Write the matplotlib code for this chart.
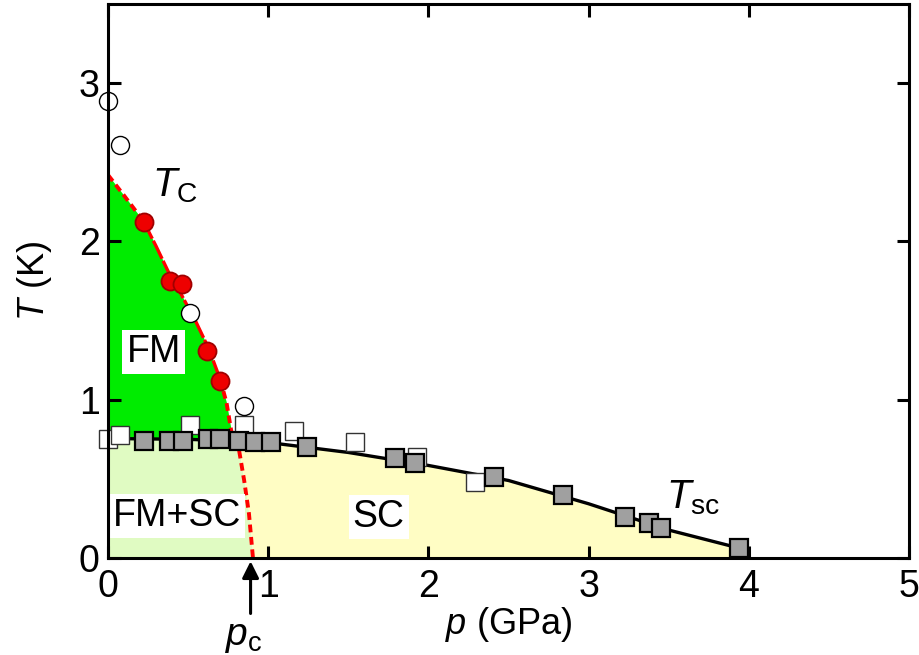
import matplotlib
matplotlib.use("Agg")
import matplotlib.pyplot as plt
import numpy as np

plt.rcParams['font.family'] = ['Liberation Sans', 'DejaVu Sans']
plt.rcParams['mathtext.fontset'] = 'custom'
plt.rcParams['mathtext.rm'] = 'Liberation Sans'
plt.rcParams['mathtext.it'] = 'Liberation Sans:italic'
plt.rcParams['mathtext.default'] = 'it'

# ---- data ----
# Tc from red filled circles
tc_red_p = [0.227, 0.39, 0.46, 0.62, 0.70]
tc_red_T = [2.12, 1.75, 1.73, 1.31, 1.12]
# open circles
tc_open_p = [0.0, 0.077, 0.51, 0.85]
tc_open_T = [2.89, 2.61, 1.55, 0.96]
# Tsc gray squares
tsc_p = [0.225, 0.38, 0.47, 0.625, 0.70, 0.82, 0.915, 1.02, 1.245, 1.79, 1.915, 2.41, 2.84, 3.23, 3.38, 3.45, 3.94]
tsc_T = [0.74, 0.74, 0.74, 0.75, 0.75, 0.74, 0.735, 0.73, 0.70, 0.63, 0.60, 0.51, 0.40, 0.26, 0.22, 0.19, 0.063]
# open squares
tsc_open_p = [0.0, 0.075, 0.51, 0.85, 1.16, 1.54, 1.93, 2.29]
tsc_open_T = [0.75, 0.775, 0.84, 0.84, 0.80, 0.735, 0.64, 0.48]
# Tc phase line (red dashed)
tc_line_p = [0.0, 0.10, 0.22, 0.30, 0.39, 0.46, 0.55, 0.63, 0.70, 0.74, 0.77, 0.81, 0.85, 0.88, 0.905]
tc_line_T = [2.42, 2.29, 2.13, 1.97, 1.78, 1.66, 1.49, 1.32, 1.13, 0.98, 0.80, 0.73, 0.49, 0.28, 0.0]
# Tsc phase line (black)
tsc_line_p = [0.0, 0.5, 1.0, 1.5, 2.0, 2.5, 3.0, 3.5, 3.94, 4.0]
tsc_line_T = [0.755, 0.75, 0.73, 0.667, 0.585, 0.49, 0.343, 0.177, 0.063, 0.0]
pc = 0.89

xticks = [0, 1, 2, 3, 4, 5]
yticks = [0, 1, 2, 3]

fig = plt.figure(figsize=(9.2, 6.55), dpi=100)
ax = fig.add_axes([0.1174, 0.148, 0.988 - 0.1174, 0.994 - 0.148])
ax.set_xlim(0, 5)
ax.set_ylim(0, 3.5)

tcp = np.array(tc_line_p); tcT = np.array(tc_line_T)
tsp = np.array(tsc_line_p); tsT = np.array(tsc_line_T)

# regions
green = '#00ec00'
lightgreen = '#e0fbc2'
yellow = '#fffdc4'
pg = np.linspace(0, 0.9, 400)
tc_g = np.interp(pg, tcp, tcT)
ts_g = np.interp(pg, tsp, tsT)
ax.fill_between(pg, ts_g, tc_g, where=tc_g >= ts_g, color=green, lw=0, zorder=1)
ax.fill_between(pg, 0, np.minimum(tc_g, ts_g), color=lightgreen, lw=0, zorder=1)
py = np.linspace(0.75, 4.0, 800)
ts_y = np.interp(py, tsp, tsT)
tc_y = np.interp(py, tcp, tcT, right=0.0)
ax.fill_between(py, tc_y, ts_y, where=ts_y >= tc_y, color=yellow, lw=0, zorder=1)

# lines
ax.plot(tsp[:-1], tsT[:-1], color='black', lw=2.4, zorder=3)
ax.plot(tcp[:3], tcT[:3], color='red', lw=2.8, ls=(0, (2.0, 1.2)), zorder=3)
ax.plot(tcp[2:9], tcT[2:9], color='red', lw=2.4, ls=(0, (6, 0.7)), zorder=3)
ax.plot(tcp[8:], tcT[8:], color='red', lw=2.8, ls=(0, (2.0, 1.2)), zorder=3)

# markers
ax.plot(tsc_open_p, tsc_open_T, ls='none', marker='s', ms=12.5, mfc='white', mec='#333333', mew=1.0, zorder=4, clip_on=False)
ax.plot(tc_open_p, tc_open_T, ls='none', marker='o', ms=13, mfc='white', mec='black', mew=1.0, zorder=4, clip_on=False)
ax.plot(tc_red_p, tc_red_T, ls='none', marker='o', ms=13, mfc='#ee0000', mec='#a00000', mew=1.3, zorder=5)
ax.plot(tsc_p, tsc_T, ls='none', marker='s', ms=12.5, mfc='#a0a0a0', mec='black', mew=1.6, zorder=5)

# labels in the diagram
fs = 27
box = dict(facecolor='white', edgecolor='none', pad=3)
ax.text(0.285, 1.3, 'FM', fontsize=fs, ha='center', va='center', bbox=box, zorder=6)
ax.text(0.43, 0.265, 'FM+SC', fontsize=fs, ha='center', va='center', bbox=box, zorder=6)
ax.text(1.69, 0.26, 'SC', fontsize=fs, ha='center', va='center', bbox=box, zorder=6)
ax.text(0.42, 2.35, r'$T_\mathrm{C}$', fontsize=29, ha='center', va='center', zorder=6)
ax.text(3.65, 0.38, r'$T_\mathrm{sc}$', fontsize=29, ha='center', va='center', zorder=6)

# pc arrow and label
ax.annotate('', xy=(pc, -0.02), xytext=(pc, -0.35), xycoords='data', textcoords='data',
            arrowprops=dict(arrowstyle='-|>', color='black', lw=2.2, mutation_scale=25,
                            shrinkA=0, shrinkB=0), annotation_clip=False)
ax.text(pc - 0.04, -0.5, r'$p_\mathrm{c}$', fontsize=28, ha='center', va='center', clip_on=False)

# axes styling
ax.set_xticks(xticks)
ax.set_yticks(yticks)
ax.tick_params(axis='both', which='both', direction='in', length=9, width=2.2,
               labelsize=27, top=True, right=True)
ax.tick_params(axis='x', pad=8)
ax.tick_params(axis='y', pad=6)
for s in ax.spines.values():
    s.set_linewidth(2.2)
    s.set_zorder(7)

ax.set_xlabel(r'$p$ (GPa)', fontsize=26, labelpad=0)
ax.set_ylabel(r'$T$ (K)', fontsize=26, labelpad=18)

fig.savefig('out.png', dpi=100)
